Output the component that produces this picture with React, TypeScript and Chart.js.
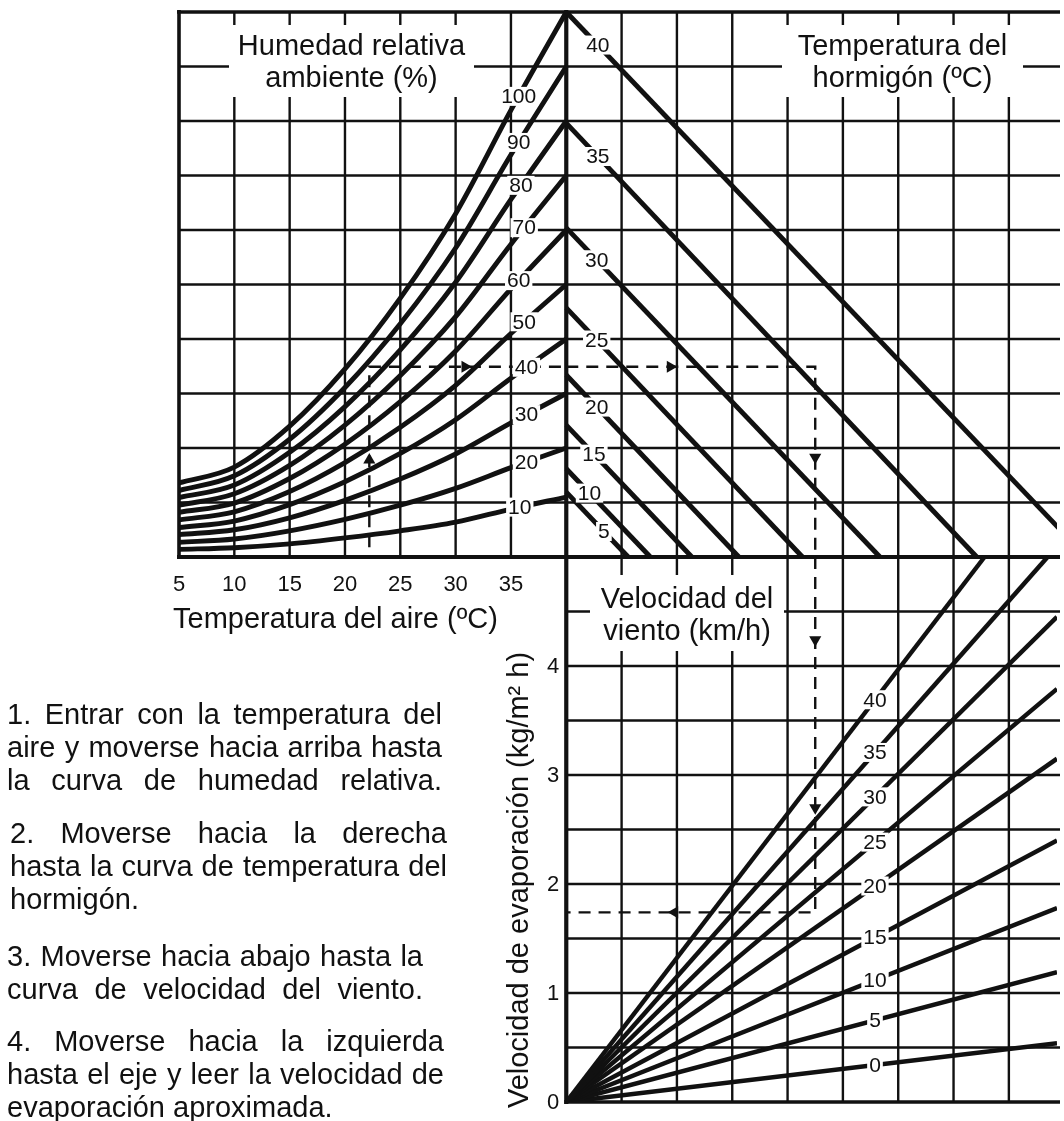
import React, { useEffect, useRef } from "react";
import { Chart, registerables } from "chart.js";

Chart.register(...registerables);

// ---------------- data ----------------
// Upper-left quadrant: air temperature (ºC) vs. vapour pressure (grid units)
const airTemps = [5, 10, 15, 20, 25, 30, 35, 40];
const humidityLevels = [100, 90, 80, 70, 60, 50, 40, 30, 20, 10];
const rh100 = [1.36, 1.65, 2.4, 3.45, 4.75, 6.3, 8.2, 10.0];
const rh90 = [1.22, 1.49, 2.16, 3.11, 4.28, 5.67, 7.38, 9.0];
const rh80 = [1.09, 1.32, 1.92, 2.76, 3.8, 5.04, 6.56, 8.0];
const rh70 = [0.95, 1.16, 1.68, 2.42, 3.33, 4.41, 5.74, 7.0];
const rh60 = [0.82, 0.99, 1.44, 2.07, 2.85, 3.78, 4.92, 6.0];
const rh50 = [0.68, 0.83, 1.2, 1.73, 2.38, 3.15, 4.1, 5.0];
const rh40 = [0.54, 0.66, 0.96, 1.38, 1.9, 2.52, 3.28, 4.0];
const rh30 = [0.41, 0.5, 0.72, 1.04, 1.43, 1.89, 2.46, 3.0];
const rh20 = [0.27, 0.33, 0.48, 0.69, 0.95, 1.26, 1.64, 2.0];
const rh10 = [0.14, 0.17, 0.24, 0.35, 0.48, 0.64, 0.88, 1.1];
const rhSeries = [rh100, rh90, rh80, rh70, rh60, rh50, rh40, rh30, rh20, rh10];

// Upper-right quadrant: concrete temperature lines (start on the vapour axis, end on the centre line)
const concreteTemps = [40, 35, 30, 25, 20, 15, 10, 5];
const concreteStartVapour = [10.0, 7.96, 6.04, 4.57, 3.34, 2.42, 1.62, 1.19];
const concreteEndDiff = [9.4, 7.42, 5.67, 4.27, 3.12, 2.27, 1.52, 1.12];

// Lower-right quadrant: wind speed lines from the origin (evaporation kg/m² h)
const windSpeeds = [40, 35, 30, 25, 20, 15, 10, 5, 0];
const windEndDiff = [7.56, 8.7, 8.87, 8.87, 8.87, 8.87, 8.87, 8.87, 8.87];
const windEndEvap = [5, 5, 4.45, 3.79, 3.15, 2.4, 1.78, 1.19, 0.54];

// Axis tick labels
const airTickLabels = [5, 10, 15, 20, 25, 30, 35];
const evapTickLabels = [0, 1, 2, 3, 4];

// Worked example (dashed path)
const exampleAirTemp = 22.2;
const exampleStartVapour = 0.18;
const exampleVapour = 3.49;
const exampleDiff = 4.5;
const exampleEvap = 1.74;
const arrowsUpperLeft = [
  { x: 22.2, y: 1.78, rot: 0 },
  { x: 30.85, y: 3.49, rot: 90 },
];
const arrowsUpperRight = [
  { x: 1.88, y: 3.49, rot: 90 },
  { x: 4.5, y: 1.83, rot: 180 },
];
const arrowsLower = [
  { x: 4.5, y: 4.24, rot: 180 },
  { x: 4.5, y: 2.7, rot: 180 },
  { x: 1.96, y: 1.74, rot: 270 },
];

// ---------------- layout / style ----------------
const W = 1064;
const H = 1121;
const INK = "#111";
const FONT = '"Liberation Sans", Arial, Helvetica, sans-serif';
const BIG = `29px ${FONT}`;
const TICK = `22px ${FONT}`;
const SMALL = `21px ${FONT}`;
const GRID_W = 2.4;
const BORDER_W = 3.6;
const CENTER_W = 4.2;
const CURVE_W = 4.9;
const RH_LABEL_T = [35.7, 35.7, 35.9, 36.2, 35.7, 36.2, 36.4, 36.4, 36.4, 35.8];
const CONCRETE_LABEL_X = [0.57, 0.57, 0.55, 0.55, 0.55, 0.5, 0.42, 0.68];
const WIND_LABEL_X = 5.58;

function interp(xs: number[], ys: number[], x: number) {
  for (let i = 0; i < xs.length - 1; i++) {
    if (x >= xs[i] && x <= xs[i + 1]) {
      const f = (x - xs[i]) / (xs[i + 1] - xs[i]);
      return ys[i] + f * (ys[i + 1] - ys[i]);
    }
  }
  return ys[ys.length - 1];
}

const nomogramPlugin = {
  id: "nomogram",
  beforeDatasetsDraw(chart: any) {
    const ctx = chart.ctx;
    const sx = chart.scales.x;
    const sy = chart.scales.y;
    const area = chart.chartArea;
    const X = (v: number) => sx.getPixelForValue(v);
    const Y = (v: number) => sy.getPixelForValue(v);
    const right = area.right + 3;
    const seg = (x1: number, y1: number, x2: number, y2: number, w: number) => {
      ctx.lineWidth = w;
      ctx.beginPath();
      ctx.moveTo(x1, y1);
      ctx.lineTo(x2, y2);
      ctx.stroke();
    };
    ctx.save();
    ctx.strokeStyle = INK;
    ctx.lineCap = "butt";
    for (let i = sx.min + 1; i < 0; i++) seg(X(i), Y(0), X(i), Y(sy.max), GRID_W);
    for (let i = 1; i < sx.max; i++) seg(X(i), Y(sy.min), X(i), Y(sy.max), GRID_W);
    for (let j = 1; j < sy.max; j++) seg(X(sx.min), Y(j), right, Y(j), GRID_W);
    for (let j = sy.min + 1; j < 0; j++) seg(X(0), Y(j), right, Y(j), GRID_W);
    seg(X(sx.min) - 2, Y(sy.max), right, Y(sy.max), BORDER_W);
    seg(X(sx.min), Y(sy.max) - 2, X(sx.min), Y(0) + 2, BORDER_W);
    seg(X(0) - 2, Y(sy.min), right, Y(sy.min), BORDER_W);
    seg(X(sx.min) - 2, Y(0), right, Y(0), CENTER_W);
    seg(X(0), Y(sy.max) - 2, X(0), Y(sy.min) + 2, CENTER_W);
    ctx.restore();
  },
  afterDatasetsDraw(chart: any) {
    const ctx = chart.ctx;
    const sx = chart.scales.x;
    const sy = chart.scales.y;
    const sAir = chart.scales.xAir;
    const sEvap = chart.scales.yEvap;
    ctx.save();

    const tag = (text: string, cx: number, cy: number) => {
      ctx.font = SMALL;
      const w = ctx.measureText(text).width + 4;
      ctx.fillStyle = "#fff";
      ctx.fillRect(cx - w / 2, cy - 9.5, w, 19);
      ctx.fillStyle = INK;
      ctx.textAlign = "center";
      ctx.textBaseline = "middle";
      ctx.fillText(text, cx, cy + 1);
    };

    humidityLevels.forEach((h, i) => {
      const t = RH_LABEL_T[i];
      const v = interp(airTemps, rhSeries[i], t);
      tag(String(h), sAir.getPixelForValue(t), sy.getPixelForValue(v));
    });
    concreteTemps.forEach((c, i) => {
      const xv = CONCRETE_LABEL_X[i];
      const yv = concreteStartVapour[i] * (1 - xv / concreteEndDiff[i]);
      tag(String(c), sx.getPixelForValue(xv), sy.getPixelForValue(yv));
    });
    windSpeeds.forEach((w, i) => {
      const ev = (windEndEvap[i] / windEndDiff[i]) * WIND_LABEL_X;
      tag(String(w), sx.getPixelForValue(WIND_LABEL_X), sEvap.getPixelForValue(ev));
    });

    const titleBox = (x1: number, y1: number, x2: number, y2: number, l1: string, l2: string, b1: number, b2: number) => {
      ctx.fillStyle = "#fff";
      ctx.fillRect(x1, y1, x2 - x1, y2 - y1);
      ctx.fillStyle = INK;
      ctx.font = BIG;
      ctx.textAlign = "center";
      ctx.textBaseline = "alphabetic";
      const cx = (x1 + x2) / 2;
      ctx.fillText(l1, cx, b1);
      ctx.fillText(l2, cx, b2);
    };
    titleBox(229, 25, 474, 97, "Humedad relativa", "ambiente (%)", 55, 87);
    titleBox(782, 25, 1023, 97, "Temperatura del", "hormigón (ºC)", 55, 87);
    titleBox(590, 575, 784, 651, "Velocidad del", "viento (km/h)", 608, 640);

    ctx.fillStyle = INK;
    ctx.font = TICK;
    ctx.textAlign = "center";
    ctx.textBaseline = "alphabetic";
    airTickLabels.forEach((t) => ctx.fillText(String(t), sAir.getPixelForValue(t), 591));
    ctx.font = BIG;
    ctx.textAlign = "left";
    ctx.fillText("Temperatura del aire (ºC)", 173, 628);

    ctx.font = TICK;
    ctx.textAlign = "center";
    ctx.textBaseline = "middle";
    evapTickLabels.forEach((v) => ctx.fillText(String(v), 553, sEvap.getPixelForValue(v) + 1));

    ctx.save();
    ctx.translate(528, 880);
    ctx.rotate(-Math.PI / 2);
    ctx.font = BIG;
    ctx.textAlign = "center";
    ctx.textBaseline = "alphabetic";
    ctx.fillText("Velocidad de evaporación (kg/m² h)", 0, 0);
    ctx.restore();

    ctx.restore();
  },
};

const para: React.CSSProperties = {
  position: "absolute",
  margin: 0,
  fontFamily: FONT,
  fontSize: 29,
  lineHeight: "33px",
  color: INK,
  textAlign: "justify",
};

export default function App() {
  const ref = useRef<HTMLCanvasElement | null>(null);

  useEffect(() => {
    if (!ref.current) return;
    const line = { borderColor: INK, pointRadius: 0, fill: false, tension: 0 };
    const dash = { ...line, borderWidth: 2.4, borderDash: [12, 8] };
    const arrow = {
      showLine: false,
      pointStyle: "triangle",
      pointRadius: 7,
      pointBackgroundColor: INK,
      pointBorderColor: INK,
      pointBorderWidth: 0,
    };
    const datasets: any[] = [
      {
        ...arrow,
        xAxisID: "xAir",
        yAxisID: "y",
        data: arrowsUpperLeft.map((a) => ({ x: a.x, y: a.y })),
        pointRotation: arrowsUpperLeft.map((a) => a.rot),
      },
      {
        ...arrow,
        xAxisID: "x",
        yAxisID: "y",
        data: arrowsUpperRight.map((a) => ({ x: a.x, y: a.y })),
        pointRotation: arrowsUpperRight.map((a) => a.rot),
      },
      {
        ...arrow,
        xAxisID: "x",
        yAxisID: "yEvap",
        data: arrowsLower.map((a) => ({ x: a.x, y: a.y })),
        pointRotation: arrowsLower.map((a) => a.rot),
      },
      {
        ...dash,
        xAxisID: "xAir",
        yAxisID: "y",
        data: [
          { x: exampleAirTemp, y: exampleStartVapour },
          { x: exampleAirTemp, y: exampleVapour },
          { x: 40, y: exampleVapour },
        ],
      },
      {
        ...dash,
        xAxisID: "x",
        yAxisID: "y",
        data: [
          { x: 0, y: exampleVapour },
          { x: exampleDiff, y: exampleVapour },
          { x: exampleDiff, y: 0 },
        ],
      },
      {
        ...dash,
        xAxisID: "x",
        yAxisID: "yEvap",
        data: [
          { x: exampleDiff, y: 5 },
          { x: exampleDiff, y: exampleEvap },
          { x: 0, y: exampleEvap },
        ],
      },
      ...rhSeries.map((vals, i) => ({
        ...line,
        label: `HR ${humidityLevels[i]}%`,
        xAxisID: "xAir",
        yAxisID: "y",
        borderWidth: CURVE_W,
        cubicInterpolationMode: "monotone",
        data: airTemps.map((t, k) => ({ x: t, y: vals[k] })),
      })),
      ...concreteTemps.map((c, i) => ({
        ...line,
        label: `Hormigón ${c} ºC`,
        xAxisID: "x",
        yAxisID: "y",
        borderWidth: CURVE_W,
        data: [
          { x: 0, y: concreteStartVapour[i] },
          { x: concreteEndDiff[i], y: 0 },
        ],
      })),
      ...windSpeeds.map((w, i) => ({
        ...line,
        label: `Viento ${w} km/h`,
        xAxisID: "x",
        yAxisID: "yEvap",
        borderWidth: CURVE_W - 0.4,
        data: [
          { x: 0, y: 0 },
          { x: windEndDiff[i], y: windEndEvap[i] },
        ],
      })),
    ];

    const chart = new Chart(ref.current, {
      type: "line",
      data: { datasets },
      options: {
        responsive: false,
        animation: false,
        events: [],
        layout: { padding: { left: 179, top: 12, right: 0, bottom: 19 } },
        plugins: { legend: { display: false }, tooltip: { enabled: false }, title: { display: false } },
        scales: {
          x: { type: "linear", min: -7, max: 8.87, display: false },
          xAir: { type: "linear", min: 5, max: 84.35, display: false },
          y: { type: "linear", min: -10, max: 10, display: false },
          yEvap: { type: "linear", min: 0, max: 10, display: false },
        },
      } as any,
      plugins: [nomogramPlugin],
    });
    return () => chart.destroy();
  }, []);

  return (
    <div
      style={{
        position: "absolute",
        left: 0,
        top: 0,
        width: W,
        height: H,
        overflow: "hidden",
        background: "#fff",
      }}
    >
      <canvas ref={ref} width={W} height={H} style={{ position: "absolute", left: 0, top: 0 }} />
      <div style={{ ...para, left: 7, top: 698, width: 435, textAlignLast: "justify" }}>
        1. Entrar con la temperatura del aire y moverse hacia arriba hasta la curva de humedad relativa.
      </div>
      <div style={{ ...para, left: 10, top: 817, width: 437 }}>
        2. Moverse hacia la derecha hasta la curva de temperatura del hormigón.
      </div>
      <div style={{ ...para, left: 7, top: 940, width: 416, textAlignLast: "justify" }}>
        3. Moverse hacia abajo hasta la curva de velocidad del viento.
      </div>
      <div style={{ ...para, left: 7, top: 1025, width: 437 }}>
        4. Moverse hacia la izquierda hasta el eje y leer la velocidad de evaporación aproximada.
      </div>
    </div>
  );
}
